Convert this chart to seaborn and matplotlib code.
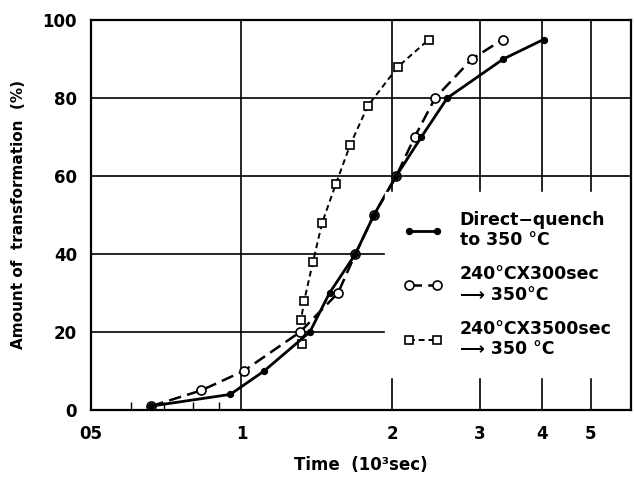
import pandas as pd
import matplotlib
matplotlib.use("Agg")
import matplotlib.pyplot as plt
from matplotlib.ticker import FixedLocator, FixedFormatter, NullFormatter
import seaborn as sns

# Direct-quench to 350 C (filled circles)
dq_time = [0.66, 0.95, 1.11, 1.37, 1.50, 1.69, 1.84, 2.04, 2.29, 2.58, 3.34, 4.02]
dq_amount = [1, 4, 10, 20, 30, 40, 50, 60, 70, 80, 90, 95]

# 240 C x 300 sec -> 350 C (open circles)
s300_time = [0.66, 0.83, 1.01, 1.31, 1.56, 1.69, 1.84, 2.04, 2.22, 2.44, 2.89, 3.33]
s300_amount = [1, 5, 10, 20, 30, 40, 50, 60, 70, 80, 90, 95]

# 240 C x 3500 sec -> 350 C (open squares)
s3500_time = [1.32, 1.315, 1.335, 1.39, 1.45, 1.545, 1.65, 1.79, 2.055, 2.37]
s3500_amount = [17, 23, 28, 38, 48, 58, 68, 78, 88, 95]

labels = ["Direct\u2212quench\nto 350 \u00b0C",
          "240\u00b0CX300sec\n\u27f6 350\u00b0C",
          "240\u00b0CX3500sec\n\u27f6 350 \u00b0C"]

xticks = [0.5, 1, 2, 3, 4, 5]
xticklabels = ["05", "1", "2", "3", "4", "5"]
xminor = [0.6, 0.7, 0.8, 0.9]
yticks = [0, 20, 40, 60, 80, 100]

sns.set_style("white")
plt.rcParams["font.family"] = ["DejaVu Sans"]
plt.rcParams["font.weight"] = "bold"
for k in ["text.color", "axes.labelcolor", "xtick.color", "ytick.color"]:
    plt.rcParams[k] = "black"

fig = plt.figure(figsize=(6.34, 4.82), dpi=100)
ax = fig.add_axes([0.1435, 0.1494, 0.851, 0.8091])

sq = pd.DataFrame({"t": s3500_time, "a": s3500_amount})
oc = pd.DataFrame({"t": s300_time, "a": s300_amount})
fc = pd.DataFrame({"t": dq_time, "a": dq_amount})

sns.lineplot(data=sq, x="t", y="a", sort=False, estimator=None, ax=ax,
             color="black", lw=1.4, linestyle=(0, (3, 2)), marker="s",
             markersize=5.5, markerfacecolor="white", markeredgecolor="black",
             markeredgewidth=1.2, label=labels[2], zorder=3)
sns.lineplot(data=oc, x="t", y="a", sort=False, estimator=None, ax=ax,
             color="black", lw=1.8, linestyle=(0, (5, 2.5)), marker="o",
             markersize=6.5, markerfacecolor="white", markeredgecolor="black",
             markeredgewidth=1.2, label=labels[1], zorder=4)
sns.lineplot(data=fc, x="t", y="a", sort=False, estimator=None, ax=ax,
             color="black", lw=2.0, marker="o", markersize=4.5,
             markeredgecolor="black", label=labels[0], zorder=5)

ax.set_xscale("log")
ax.set_xlim(0.5, 6.0)
ax.set_ylim(0, 100)
ax.xaxis.set_major_locator(FixedLocator(xticks))
ax.xaxis.set_major_formatter(FixedFormatter(xticklabels))
ax.xaxis.set_minor_locator(FixedLocator(xminor))
ax.xaxis.set_minor_formatter(NullFormatter())
ax.set_yticks(yticks)
ax.set_yticklabels([str(v) for v in yticks])

ax.grid(True, which="major", color="black", lw=1.2)
ax.tick_params(axis="both", which="major", length=0, labelsize=12)
ax.tick_params(axis="x", which="major", pad=11)
ax.tick_params(axis="y", which="major", pad=10)
ax.tick_params(axis="x", which="minor", direction="in", length=6, width=1.0,
               color="black", bottom=True)
for s in ax.spines.values():
    s.set_color("black")
    s.set_linewidth(1.6)
    s.set_zorder(8)

ax.set_xlabel("Time  (10\u00b3sec)", fontsize=12, fontweight="bold", labelpad=9)
ax.set_ylabel("Amount of  transformation  (%)", fontsize=11,
              fontweight="bold", labelpad=12)

h, l = ax.get_legend_handles_labels()
order = [2, 1, 0]
leg = ax.legend([h[i] for i in order], [l[i] for i in order],
                loc="upper left", bbox_to_anchor=(0.545, 0.56),
                borderaxespad=0, numpoints=2, handlelength=2.2,
                handletextpad=1.0, labelspacing=0.9, fontsize=12.5,
                frameon=True, framealpha=1, facecolor="white",
                edgecolor="white", borderpad=1.1, fancybox=False)
leg.set_zorder(6)

fig.savefig("out.png", dpi=100)
